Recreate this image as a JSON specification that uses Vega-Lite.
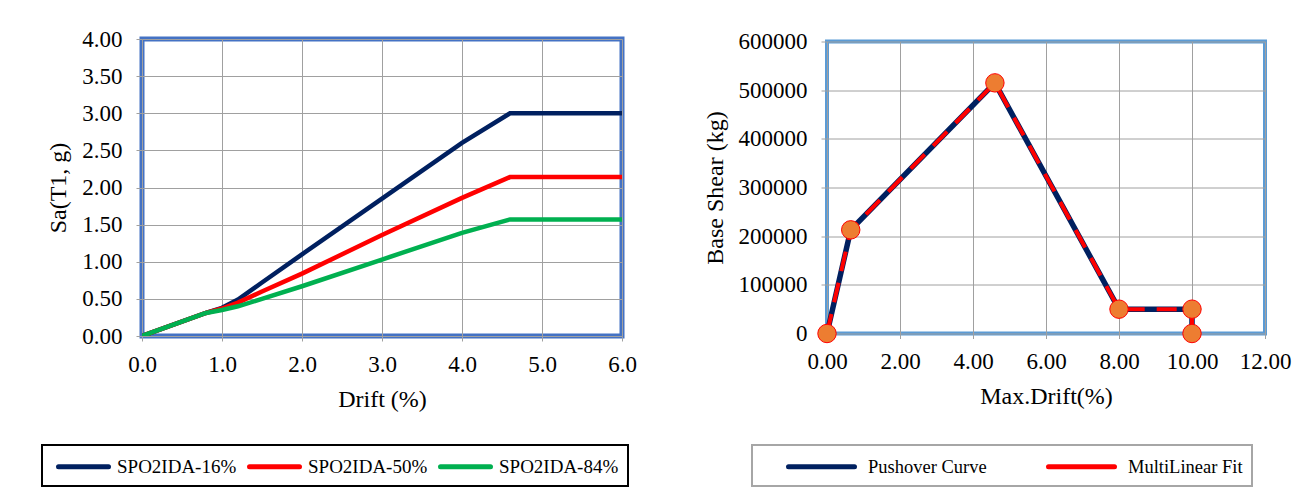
{
  "$schema": "https://vega.github.io/schema/vega-lite/v6.json",
  "background": "white",
  "padding": {"left": 41, "top": 25, "right": 0, "bottom": 0},
  "spacing": 205,
  "bounds": "flush",
  "center": true,
  "datasets": {
    "ida": [
      {"series": "SPO2IDA-16%", "i": 0, "drift": 0, "sa": 0},
      {"series": "SPO2IDA-16%", "i": 1, "drift": 0.8, "sa": 0.31},
      {"series": "SPO2IDA-16%", "i": 2, "drift": 1.0, "sa": 0.38},
      {"series": "SPO2IDA-16%", "i": 3, "drift": 1.2, "sa": 0.49},
      {"series": "SPO2IDA-16%", "i": 4, "drift": 1.5, "sa": 0.72},
      {"series": "SPO2IDA-16%", "i": 5, "drift": 2.0, "sa": 1.1},
      {"series": "SPO2IDA-16%", "i": 6, "drift": 3.0, "sa": 1.85},
      {"series": "SPO2IDA-16%", "i": 7, "drift": 4.0, "sa": 2.6},
      {"series": "SPO2IDA-16%", "i": 8, "drift": 4.6, "sa": 3.0},
      {"series": "SPO2IDA-16%", "i": 9, "drift": 6.0, "sa": 3.0},
      {"series": "SPO2IDA-50%", "i": 0, "drift": 0, "sa": 0},
      {"series": "SPO2IDA-50%", "i": 1, "drift": 0.8, "sa": 0.31},
      {"series": "SPO2IDA-50%", "i": 2, "drift": 1.0, "sa": 0.37},
      {"series": "SPO2IDA-50%", "i": 3, "drift": 1.2, "sa": 0.45},
      {"series": "SPO2IDA-50%", "i": 4, "drift": 1.5, "sa": 0.6},
      {"series": "SPO2IDA-50%", "i": 5, "drift": 2.0, "sa": 0.84},
      {"series": "SPO2IDA-50%", "i": 6, "drift": 3.0, "sa": 1.36},
      {"series": "SPO2IDA-50%", "i": 7, "drift": 4.0, "sa": 1.86},
      {"series": "SPO2IDA-50%", "i": 8, "drift": 4.6, "sa": 2.14},
      {"series": "SPO2IDA-50%", "i": 9, "drift": 6.0, "sa": 2.14},
      {"series": "SPO2IDA-84%", "i": 0, "drift": 0, "sa": 0},
      {"series": "SPO2IDA-84%", "i": 1, "drift": 0.8, "sa": 0.31},
      {"series": "SPO2IDA-84%", "i": 2, "drift": 1.0, "sa": 0.35},
      {"series": "SPO2IDA-84%", "i": 3, "drift": 1.2, "sa": 0.4},
      {"series": "SPO2IDA-84%", "i": 4, "drift": 1.5, "sa": 0.5},
      {"series": "SPO2IDA-84%", "i": 5, "drift": 2.0, "sa": 0.67},
      {"series": "SPO2IDA-84%", "i": 6, "drift": 3.0, "sa": 1.03},
      {"series": "SPO2IDA-84%", "i": 7, "drift": 4.0, "sa": 1.39},
      {"series": "SPO2IDA-84%", "i": 8, "drift": 4.6, "sa": 1.57},
      {"series": "SPO2IDA-84%", "i": 9, "drift": 6.0, "sa": 1.57}
    ],
    "push": [
      {"series": "Pushover Curve", "i": 0, "drift": 0, "shear": 0},
      {"series": "Pushover Curve", "i": 1, "drift": 0.65, "shear": 213000},
      {"series": "Pushover Curve", "i": 2, "drift": 4.6, "shear": 515000},
      {"series": "Pushover Curve", "i": 3, "drift": 8.0, "shear": 50000},
      {"series": "Pushover Curve", "i": 4, "drift": 10.0, "shear": 50000},
      {"series": "Pushover Curve", "i": 5, "drift": 10.0, "shear": 0},
      {"series": "MultiLinear Fit", "i": 0, "drift": 0, "shear": 0},
      {"series": "MultiLinear Fit", "i": 1, "drift": 0.65, "shear": 213000},
      {"series": "MultiLinear Fit", "i": 2, "drift": 4.6, "shear": 515000},
      {"series": "MultiLinear Fit", "i": 3, "drift": 8.0, "shear": 50000},
      {"series": "MultiLinear Fit", "i": 4, "drift": 10.0, "shear": 50000},
      {"series": "MultiLinear Fit", "i": 5, "drift": 10.0, "shear": 0}
    ]
  },
  "hconcat": [
    {
      "width": 480,
      "height": 297,
      "view": {"stroke": "#4472C4", "strokeWidth": 5},
      "data": {"name": "ida"},
      "mark": {"type": "line", "strokeWidth": 4.5, "clip": true},
      "encoding": {
        "x": {"field": "drift", "type": "quantitative", "scale": {"domain": [0, 6], "nice": false},
          "axis": {"title": "Drift (%)", "values": [0, 1, 2, 3, 4, 5, 6], "format": ".1f"}},
        "y": {"field": "sa", "type": "quantitative", "scale": {"domain": [0, 4], "nice": false},
          "axis": {"title": "Sa(T1, g)", "values": [0, 0.5, 1, 1.5, 2, 2.5, 3, 3.5, 4], "format": ".2f"}},
        "color": {"field": "series", "type": "nominal",
          "scale": {"domain": ["SPO2IDA-16%", "SPO2IDA-50%", "SPO2IDA-84%"], "range": ["#002060", "#FF0000", "#00B050"]},
          "legend": {"title": null, "orient": "none", "legendX": -100, "legendY": 406, "direction": "horizontal", "columns": 3,
            "symbolType": "M-1,0L4,0", "symbolSize": 400, "symbolStrokeWidth": 5, "symbolOffset": 5,
            "labelFontSize": 19, "labelOffset": 36, "columnPadding": 2, "padding": 9, "strokeColor": "#000000",
            "encode": {"legend": {"update": {"strokeWidth": {"value": 2}}}, "symbols": {"update": {"strokeCap": {"value": "round"}}}}}},
        "order": {"field": "i", "type": "quantitative"}
      }
    },
    {
      "width": 438,
      "height": 292,
      "view": {"stroke": "#5B9BD5", "strokeWidth": 4},
      "data": {"name": "push"},
      "encoding": {
        "x": {"field": "drift", "type": "quantitative", "scale": {"domain": [0, 12], "nice": false},
          "axis": {"title": "Max.Drift(%)", "values": [0, 2, 4, 6, 8, 10, 12], "format": ".2f"}},
        "y": {"field": "shear", "type": "quantitative", "scale": {"domain": [0, 600000], "nice": false},
          "axis": {"title": "Base Shear (kg)", "values": [0, 100000, 200000, 300000, 400000, 500000, 600000], "format": "d"}},
        "order": {"field": "i", "type": "quantitative"}
      },
      "layer": [
        {
          "transform": [{"filter": "datum.series === 'Pushover Curve'"}],
          "mark": {"type": "line", "strokeWidth": 5.5},
          "encoding": {
            "stroke": {"field": "series", "type": "nominal",
              "scale": {"domain": ["Pushover Curve", "MultiLinear Fit"], "range": ["#002060", "#FF0000"]},
              "legend": {"title": null, "orient": "none", "legendX": 610, "legendY": 406, "direction": "horizontal", "columns": 2,
                "symbolType": "M-1,0L5.6,0", "symbolSize": 400, "symbolStrokeWidth": 5, "symbolOffset": 25,
                "labelFontSize": 18.5, "labelOffset": 57, "columnPadding": 34, "padding": 9,
                "strokeColor": "#A6A6A6",
                "encode": {"legend": {"update": {"strokeWidth": {"value": 2}}}, "symbols": {"update": {"strokeCap": {"value": "round"}}}}}}
          }
        },
        {
          "transform": [{"filter": "datum.series === 'MultiLinear Fit'"}],
          "mark": {"type": "line", "strokeWidth": 4, "strokeDash": [20, 12]},
          "encoding": {
            "stroke": {"field": "series", "type": "nominal"}
          }
        },
        {
          "transform": [{"filter": "datum.series === 'MultiLinear Fit'"}],
          "mark": {"type": "point", "filled": true, "fill": "#ED7D31", "stroke": "#FF0000", "strokeWidth": 1, "size": 340, "opacity": 1}
        }
      ]
    }
  ],
  "config": {
    "font": "Liberation Serif",
    "axis": {
      "labelFont": "Liberation Serif", "labelFontSize": 23, "labelColor": "#000000",
      "titleFont": "Liberation Serif", "titleFontSize": 24, "titleFontWeight": "normal", "titleColor": "#000000",
      "gridColor": "#A0A0A0", "gridWidth": 1, "tickColor": "#A0A0A0", "tickSize": 5,
      "domain": false, "labelPadding": 12, "titlePadding": 11, "labelFlush": false, "labelOverlap": false
    },
    "axisY": {"tickSize": 6, "labelPadding": 14, "titlePadding": 11},
    "legend": {"labelFont": "Liberation Serif", "labelColor": "#000000"}
  }
}
